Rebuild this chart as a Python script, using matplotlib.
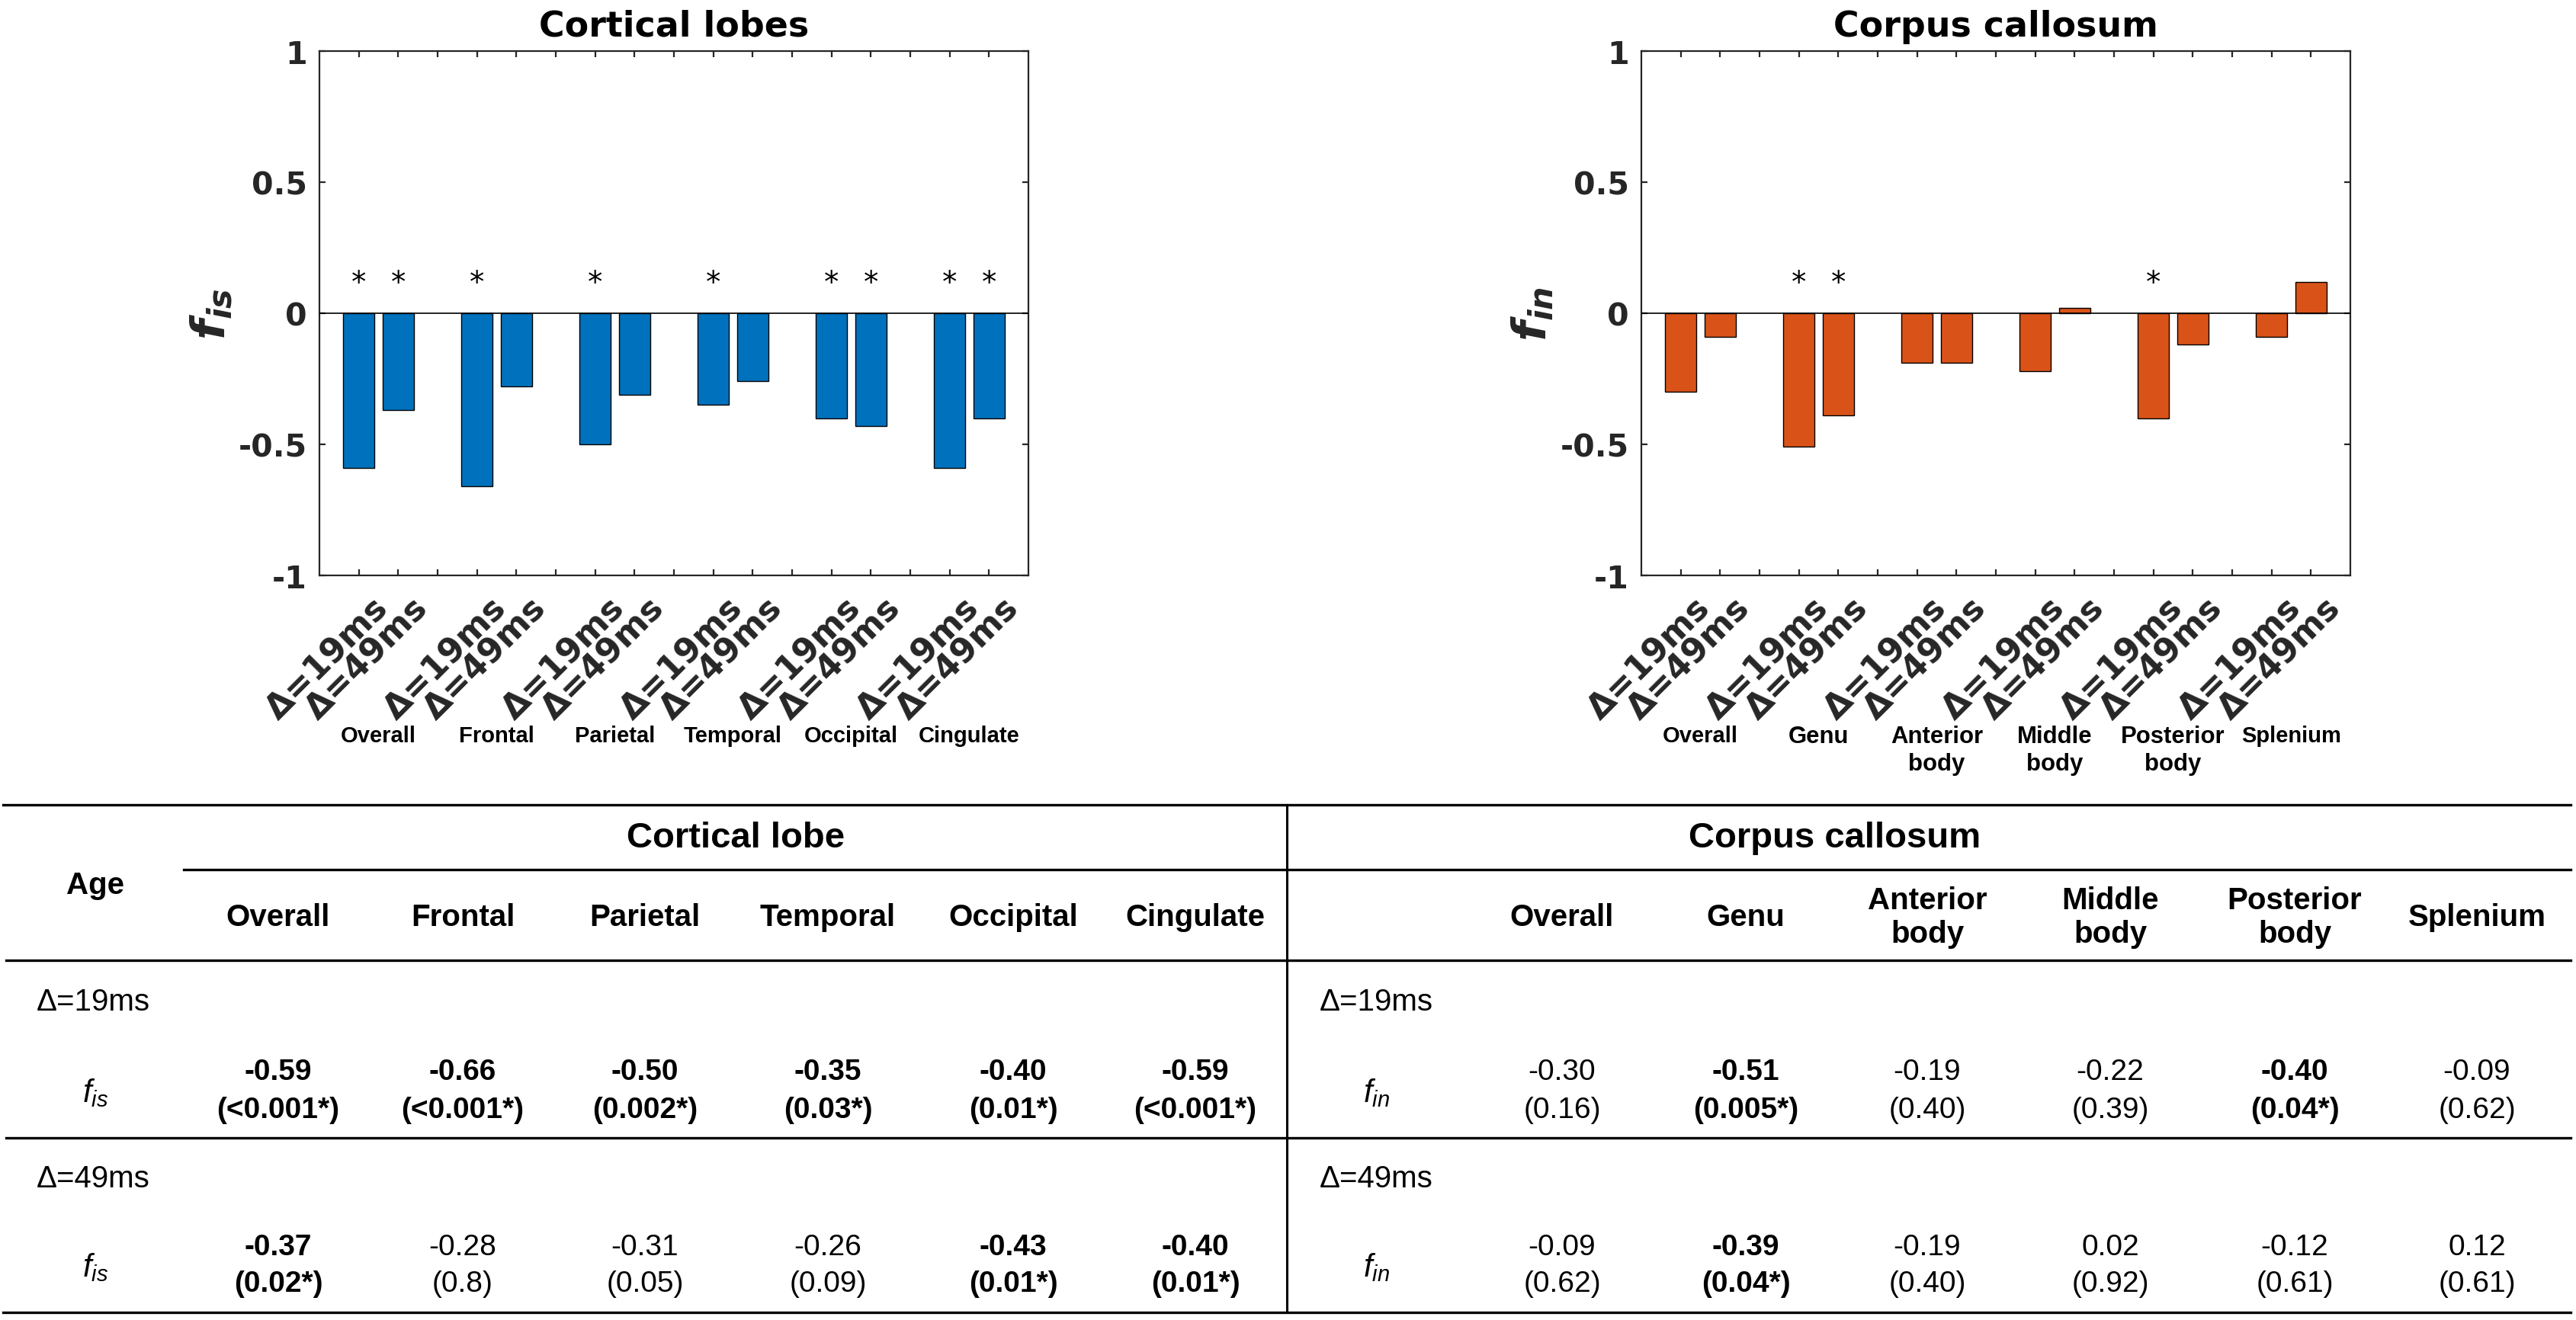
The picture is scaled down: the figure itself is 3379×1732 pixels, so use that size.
import numpy as np
import matplotlib
matplotlib.use("Agg")
import matplotlib.pyplot as plt
import matplotlib.transforms as mtransforms
from matplotlib.lines import Line2D

plt.rcParams['mathtext.fontset'] = 'custom'
plt.rcParams['mathtext.rm'] = 'Liberation Sans'
plt.rcParams['mathtext.it'] = 'Liberation Sans:italic'
plt.rcParams['mathtext.bf'] = 'Liberation Sans:bold'
plt.rcParams['mathtext.bfit'] = 'DejaVu Sans:italic:bold'

# ---- data -------------------------------------------------------------
cortical_regions = ['Overall', 'Frontal', 'Parietal', 'Temporal', 'Occipital', 'Cingulate']
cc_regions = ['Overall', 'Genu', 'Anterior\nbody', 'Middle\nbody', 'Posterior\nbody', 'Splenium']
delta_labels = ['\u0394=19ms', '\u0394=49ms']

fis_19 = [-0.59, -0.66, -0.50, -0.35, -0.40, -0.59]
fis_49 = [-0.37, -0.28, -0.31, -0.26, -0.43, -0.40]
fis_p19 = ['<0.001*', '<0.001*', '0.002*', '0.03*', '0.01*', '<0.001*']
fis_p49 = ['0.02*', '0.8', '0.05', '0.09', '0.01*', '0.01*']

fin_19 = [-0.30, -0.51, -0.19, -0.22, -0.40, -0.09]
fin_49 = [-0.09, -0.39, -0.19, 0.02, -0.12, 0.12]
fin_p19 = ['0.16', '0.005*', '0.40', '0.39', '0.04*', '0.62']
fin_p49 = ['0.62', '0.04*', '0.40', '0.92', '0.61', '0.61']

W, H = 3380, 1733
fig = plt.figure(figsize=(W / 200, H / 200), dpi=200)

# full-figure pixel axes for the table and free text
tab = fig.add_axes([0, 0, 1, 1])
tab.set_xlim(0, W)
tab.set_ylim(H, 0)
tab.axis('off')

GRAY = '0.15'


def bar_panel(ax, v19, v49, p19, p49, regions, color, title, ylab, big_groups):
    n = len(regions)
    x19 = np.arange(n) * 3 + 1
    x49 = x19 + 1
    ax.bar(x19, v19, width=0.8, color=color, edgecolor='k', linewidth=0.5, zorder=2)
    ax.bar(x49, v49, width=0.8, color=color, edgecolor='k', linewidth=0.5, zorder=2)
    ax.axhline(0, color='k', lw=0.6, zorder=3)
    for xs, ps in ((x19, p19), (x49, p49)):
        for x, p in zip(xs, ps):
            if '*' in p:
                ax.text(x, 0.085, '*', ha='center', va='baseline', fontsize=14)
    ax.set_xlim(0, 3 * n)
    ax.set_ylim(-1, 1)
    ax.set_xticks(np.arange(1, 3 * n))
    ax.set_xticklabels([])
    ax.set_yticks([-1, -0.5, 0, 0.5, 1])
    ax.set_yticklabels(['-1', '-0.5', '0', '0.5', '1'], fontsize=14.8,
                       fontweight='bold', color=GRAY)
    ax.tick_params(direction='in', length=3, width=0.8, color=GRAY,
                   top=True, right=True, pad=5.8)
    for s in ax.spines.values():
        s.set_color(GRAY)
        s.set_linewidth(0.8)
    ax.set_title(title, fontsize=16.5, fontweight='bold', pad=7.2)
    ax.text(-0.152, 0.5, ylab, transform=ax.transAxes, rotation=90,
            ha='center', va='center', fontsize=22, color=GRAY)
    # rotated tick labels
    off = mtransforms.ScaledTranslation(0.085, -0.10, fig.dpi_scale_trans)
    for xs, lab in ((x19, delta_labels[0]), (x49, delta_labels[1])):
        for x in xs:
            ax.text(x, 0, lab, transform=ax.get_xaxis_transform() + off,
                    rotation=45, rotation_mode='anchor', ha='right', va='top',
                    fontsize=16, fontweight='bold', color=GRAY)
    # region names under the pairs
    tr = mtransforms.blended_transform_factory(ax.transData, tab.transData)
    for i, r in enumerate(regions):
        fs = 11.2 if i in big_groups else 10.5
        ax.text(x19[i] + 0.5, 952, r, transform=tr, ha='center', va='top',
                fontsize=fs, fontweight='bold', family='Liberation Sans',
                linespacing=1.25)


ax1 = fig.add_axes([419 / W, 1 - 756 / H, 930 / W, 688 / H])
bar_panel(ax1, fis_19, fis_49, fis_p19, fis_p49, cortical_regions, '#0072BD',
          'Cortical lobes', r'$\mathbfit{f}_{\mathbfit{is}}$', [])
ax2 = fig.add_axes([2153 / W, 1 - 756 / H, 930 / W, 688 / H])
bar_panel(ax2, fin_19, fin_49, fin_p19, fin_p49, cc_regions, '#D95319',
          'Corpus callosum', r'$\mathbfit{f}_{\mathbfit{in}}$', [1, 2, 3, 4])

# ---- table ------------------------------------------------------------
LW = 1.2
for y, x0 in ((1057, 4), (1142, 241), (1261, 8), (1494, 8), (1723, 4)):
    tab.add_line(Line2D([x0, 3372], [y, y], color='k', lw=LW))
tab.add_line(Line2D([1688, 1688], [1057, 1723], color='k', lw=1.1))

TF = 'Liberation Sans'
left_cols = [365, 607, 846, 1086, 1329, 1568]
right_cols = [2049, 2290, 2528, 2768, 3010, 3249]

tab.text(965, 1100, 'Cortical lobe', ha='center', va='center', fontsize=17,
         fontweight='bold', family=TF)
tab.text(2407, 1100, 'Corpus callosum', ha='center', va='center', fontsize=17,
         fontweight='bold', family=TF)
tab.text(125, 1162, 'Age', ha='center', va='center', fontsize=14.5,
         fontweight='bold', family=TF)

for cols, names in ((left_cols, cortical_regions), (right_cols, cc_regions)):
    for x, nm in zip(cols, names):
        tab.text(x, 1204, nm, ha='center', va='center', fontsize=14.5,
                 fontweight='bold', family=TF, linespacing=1.2)

row_sets = [
    (48, 125, r'$f_{is}$', left_cols, (fis_19, fis_p19), (fis_49, fis_p49)),
    (1731, 1805, r'$f_{in}$', right_cols, (fin_19, fin_p19), (fin_49, fin_p49)),
]
for xl, xf, fl, cols, r19, r49 in row_sets:
    for (ylab, yv, yp), (vals, ps), dl in ((
            (1315, 1407, 1457), r19, delta_labels[0]),
            ((1547, 1637, 1685), r49, delta_labels[1])):
        tab.text(xl, ylab, dl, ha='left', va='center', fontsize=14.5, family=TF)
        tab.text(xf, (yv + yp) / 2 + 2, fl, ha='center', va='center', fontsize=15)
        for x, v, p in zip(cols, vals, ps):
            w = 'bold' if '*' in p else 'normal'
            tab.text(x, yv, f'{v:.2f}', ha='center', va='center', fontsize=14,
                     fontweight=w, family=TF)
            tab.text(x, yp, f'({p})', ha='center', va='center', fontsize=14,
                     fontweight=w, family=TF)

fig.savefig('out.png', dpi=200)
